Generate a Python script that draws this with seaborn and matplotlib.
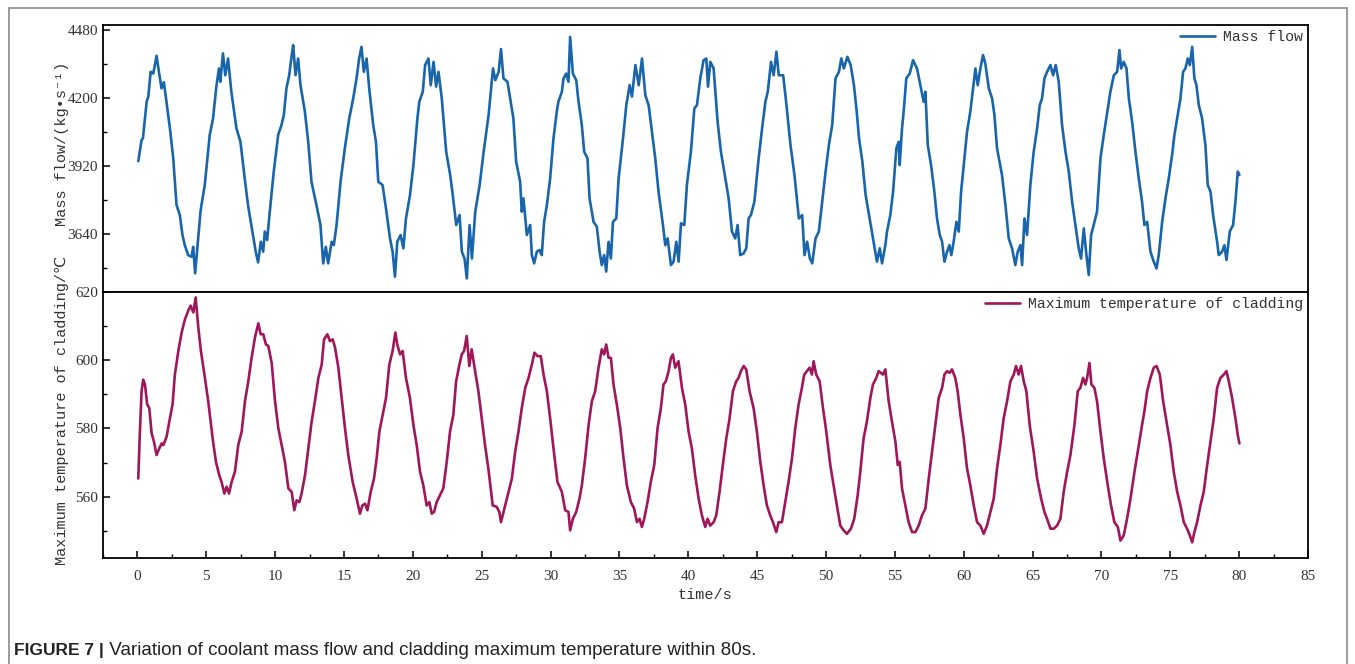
import matplotlib
matplotlib.use("Agg")
import numpy as np
import pandas as pd
import seaborn as sns
import matplotlib.pyplot as plt
from matplotlib.ticker import MultipleLocator, FixedLocator
from matplotlib.patches import Rectangle
from matplotlib.font_manager import FontProperties

# ---------------- data ----------------
t_flow = [0.06, 0.3, 0.4, 0.67, 0.79, 0.96, 1.15, 1.39, 1.58, 1.75, 1.92, 2.06, 2.36, 2.6, 2.84, 3.08, 3.27, 3.44,
          3.68, 3.93, 4.05, 4.19, 4.41, 4.58, 4.65, 4.89, 5.25, 5.49, 5.73, 5.92, 6.02, 6.21, 6.38, 6.58, 6.82, 7.19,
          7.48, 7.79, 8.03, 8.35, 8.59, 8.76, 8.96, 9.13, 9.25, 9.42, 9.61, 9.9, 10.22, 10.46, 10.63, 10.82, 11.02,
          11.19, 11.31, 11.48, 11.67, 11.84, 12.16, 12.4, 12.64, 13.0, 13.29, 13.49, 13.68, 13.85, 14.1, 14.26, 14.46,
          14.75, 15.06, 15.38, 15.67, 15.91, 16.1, 16.27, 16.44, 16.64, 16.83, 17.12, 17.32, 17.49, 17.8, 18.05,
          18.34, 18.53, 18.7, 18.87, 19.11, 19.31, 19.5, 19.79, 20.04, 20.33, 20.47, 20.72, 20.89, 21.13, 21.3, 21.5,
          21.69, 21.86, 22.1, 22.42, 22.71, 22.9, 23.15, 23.39, 23.56, 23.75, 23.92, 24.12, 24.29, 24.53, 24.85,
          25.14, 25.5, 25.82, 25.99, 26.23, 26.4, 26.58, 26.87, 27.06, 27.3, 27.5, 27.79, 27.91, 28.03, 28.28, 28.52,
          28.64, 28.81, 29.0, 29.19, 29.36, 29.53, 29.73, 29.97, 30.21, 30.45, 30.57, 30.82, 30.94, 31.13, 31.3,
          31.42, 31.62, 31.86, 32.03, 32.27, 32.44, 32.68, 32.83, 33.12, 33.36, 33.56, 33.72, 33.89, 34.04, 34.21,
          34.38, 34.53, 34.77, 34.94, 35.26, 35.5, 35.74, 35.91, 36.16, 36.4, 36.64, 36.88, 37.12, 37.36, 37.6,
          37.84, 38.16, 38.33, 38.5, 38.74, 38.93, 39.13, 39.3, 39.47, 39.71, 39.9, 40.19, 40.44, 40.63, 40.87,
          41.11, 41.31, 41.43, 41.6, 41.84, 42.13, 42.37, 42.61, 42.93, 43.17, 43.41, 43.58, 43.77, 44.02, 44.21,
          44.38, 44.55, 44.8, 45.11, 45.36, 45.6, 45.77, 46.01, 46.2, 46.4, 46.57, 46.89, 47.13, 47.42, 47.71,
          48.03, 48.27, 48.44, 48.63, 48.83, 49.0, 49.24, 49.48, 49.72, 49.97, 50.21, 50.45, 50.69, 50.94, 51.11,
          51.3, 51.55, 51.79, 52.03, 52.23, 52.4, 52.64, 52.88, 53.25, 53.46, 53.7, 53.9, 54.07, 54.31, 54.43,
          54.67, 54.87, 55.11, 55.28, 55.35, 55.52, 55.64, 55.83, 56.08, 56.32, 56.61, 56.85, 57.09, 57.22, 57.39,
          57.63, 57.87, 58.06, 58.26, 58.43, 58.6, 58.79, 58.96, 59.1, 59.27, 59.47, 59.64, 59.81, 60.05, 60.24,
          60.48, 60.68, 60.85, 61.02, 61.21, 61.4, 61.57, 61.82, 62.06, 62.23, 62.42, 62.78, 63.03, 63.27, 63.51,
          63.75, 63.92, 64.12, 64.24, 64.41, 64.6, 64.84, 65.08, 65.33, 65.52, 65.69, 65.86, 66.05, 66.3, 66.49,
          66.68, 66.9, 67.14, 67.39, 67.63, 67.87, 68.11, 68.35, 68.52, 68.72, 68.91, 69.08, 69.25, 69.44, 69.68,
          69.93, 70.17, 70.46, 70.65, 70.9, 71.14, 71.31, 71.43, 71.62, 71.82, 71.99, 72.23, 72.47, 72.71, 72.95,
          73.12, 73.32, 73.56, 73.8, 74.0, 74.16, 74.41, 74.65, 74.89, 75.13, 75.3, 75.54, 75.74, 75.93, 76.1,
          76.27, 76.42, 76.59, 76.75, 76.9, 77.07, 77.31, 77.55, 77.72, 77.92, 78.11, 78.4, 78.52, 78.76, 78.93,
          79.08, 79.32, 79.56, 79.73, 79.9, 80.02]
mass_flow = [3940, 4027, 4035, 4185, 4206, 4308, 4301, 4374, 4301, 4240, 4265, 4206, 4075, 3952, 3759, 3718, 3636,
             3594, 3553, 3546, 3587, 3478, 3622, 3732, 3759, 3842, 4048, 4116, 4247, 4322, 4267, 4384, 4294, 4363,
             4226, 4075, 4020, 3869, 3759, 3650, 3567, 3523, 3608, 3567, 3650, 3615, 3732, 3897, 4048, 4089, 4130,
             4240, 4294, 4370, 4418, 4294, 4363, 4253, 4144, 4020, 3855, 3759, 3677, 3519, 3587, 3519, 3608, 3594,
             3677, 3855, 3993, 4116, 4199, 4281, 4363, 4411, 4308, 4363, 4240, 4089, 4020, 3855, 3842, 3745, 3622,
             3567, 3464, 3608, 3636, 3581, 3704, 3800, 3924, 4116, 4185, 4226, 4336, 4363, 4253, 4349, 4247, 4308,
             4199, 3979, 3883, 3800, 3677, 3718, 3567, 3539, 3457, 3677, 3539, 3732, 3842, 3979, 4130, 4322, 4274,
             4308, 4402, 4281, 4267, 4199, 4116, 3938, 3855, 3732, 3787, 3636, 3677, 3553, 3519, 3567, 3574, 3553,
             3690, 3759, 3869, 4034, 4144, 4185, 4226, 4281, 4301, 4267, 4452, 4301, 4274, 4185, 4089, 3979, 3952,
             3787, 3690, 3670, 3567, 3512, 3553, 3485, 3608, 3539, 3690, 3704, 3869, 4034, 4171, 4253, 4206, 4336,
             4253, 4363, 4212, 4171, 4061, 3952, 3814, 3677, 3594, 3622, 3512, 3526, 3608, 3526, 3684, 3677, 3842,
             3979, 4157, 4171, 4281, 4356, 4363, 4247, 4349, 4322, 4102, 3979, 3897, 3787, 3650, 3622, 3677, 3553,
             3560, 3581, 3704, 3718, 3773, 3952, 4075, 4185, 4226, 4349, 4294, 4391, 4294, 4294, 4171, 4007, 3883,
             3704, 3718, 3553, 3608, 3539, 3519, 3622, 3650, 3773, 3897, 4007, 4089, 4281, 4308, 4363, 4322, 4370,
             4336, 4253, 4144, 4034, 3938, 3800, 3677, 3608, 3526, 3581, 3519, 3594, 3650, 3718, 3814, 3993, 4020,
             3924, 4075, 4144, 4281, 4301, 4356, 4322, 4253, 4185, 4226, 4007, 3924, 3814, 3704, 3636, 3608, 3526,
             3567, 3594, 3553, 3608, 3690, 3650, 3814, 3952, 4061, 4144, 4240, 4322, 4253, 4322, 4377, 4342, 4240,
             4199, 4130, 3993, 3883, 3759, 3622, 3581, 3512, 3567, 3594, 3512, 3704, 3636, 3842, 3979, 4075, 4171,
             4199, 4281, 4308, 4336, 4294, 4336, 4267, 4089, 3979, 3897, 3773, 3677, 3581, 3539, 3663, 3553, 3471,
             3636, 3677, 3732, 3952, 4048, 4157, 4226, 4294, 4308, 4398, 4322, 4349, 4322, 4199, 4102, 3979, 3869,
             3773, 3677, 3690, 3567, 3526, 3498, 3553, 3690, 3787, 3869, 3965, 4048, 4130, 4199, 4308, 4322, 4363,
             4336, 4411, 4281, 4253, 4171, 4116, 4007, 3842, 3814, 3718, 3608, 3553, 3567, 3594, 3533, 3650, 3677,
             3773, 3897, 3883]

t_temp = [0.06, 0.18, 0.3, 0.42, 0.55, 0.71, 0.86, 1.03, 1.2, 1.39, 1.59, 1.76, 1.88, 2.12, 2.36, 2.55, 2.72, 2.97,
          3.21, 3.45, 3.69, 3.86, 4.06, 4.23, 4.42, 4.61, 4.9, 5.14, 5.46, 5.7, 5.94, 6.11, 6.31, 6.48, 6.65, 6.84,
          7.08, 7.32, 7.57, 7.81, 8.05, 8.29, 8.53, 8.78, 8.95, 9.14, 9.33, 9.5, 9.75, 9.99, 10.23, 10.47, 10.71,
          10.96, 11.2, 11.39, 11.56, 11.76, 11.92, 12.17, 12.41, 12.65, 12.89, 13.14, 13.38, 13.55, 13.79, 13.98,
          14.18, 14.35, 14.59, 14.83, 15.07, 15.31, 15.63, 15.92, 16.16, 16.33, 16.53, 16.7, 16.94, 17.18, 17.37,
          17.57, 17.81, 18.05, 18.29, 18.53, 18.73, 18.87, 19.07, 19.26, 19.5, 19.79, 20.04, 20.28, 20.52, 20.76,
          21.0, 21.2, 21.37, 21.54, 21.73, 21.97, 22.21, 22.46, 22.7, 22.94, 23.14, 23.38, 23.55, 23.72, 23.91,
          24.1, 24.27, 24.52, 24.76, 25.0, 25.24, 25.48, 25.8, 26.09, 26.28, 26.4, 26.7, 26.95, 27.19, 27.43,
          27.67, 27.91, 28.16, 28.4, 28.64, 28.83, 29.05, 29.29, 29.49, 29.73, 29.97, 30.21, 30.5, 30.82, 31.06,
          31.3, 31.42, 31.62, 31.86, 32.1, 32.27, 32.51, 32.76, 33.0, 33.24, 33.48, 33.72, 33.89, 34.04, 34.21,
          34.38, 34.57, 34.81, 35.06, 35.3, 35.54, 35.83, 36.07, 36.27, 36.46, 36.63, 36.8, 37.04, 37.28, 37.53,
          37.77, 38.01, 38.2, 38.37, 38.57, 38.74, 38.88, 39.05, 39.29, 39.54, 39.78, 40.02, 40.26, 40.5, 40.75,
          40.99, 41.23, 41.4, 41.59, 41.84, 42.03, 42.27, 42.51, 42.76, 43.0, 43.24, 43.48, 43.65, 43.82, 44.02,
          44.21, 44.45, 44.74, 44.98, 45.23, 45.47, 45.71, 45.95, 46.15, 46.39, 46.56, 46.8, 47.04, 47.28, 47.53,
          47.77, 48.01, 48.25, 48.42, 48.62, 48.81, 48.98, 49.1, 49.29, 49.54, 49.78, 50.02, 50.31, 50.55, 50.79,
          51.04, 51.28, 51.52, 51.81, 52.05, 52.3, 52.49, 52.73, 52.97, 53.22, 53.41, 53.65, 53.82, 54.14, 54.31,
          54.55, 54.79, 55.04, 55.21, 55.35, 55.52, 55.76, 56.0, 56.25, 56.49, 56.73, 56.97, 57.22, 57.46, 57.7,
          57.94, 58.18, 58.43, 58.6, 58.79, 58.98, 59.15, 59.39, 59.56, 59.76, 60.0, 60.24, 60.48, 60.73, 60.97,
          61.21, 61.45, 61.69, 61.94, 62.18, 62.42, 62.66, 62.9, 63.15, 63.39, 63.63, 63.8, 63.99, 64.16, 64.36,
          64.55, 64.79, 65.08, 65.33, 65.62, 65.86, 66.05, 66.3, 66.54, 66.78, 67.02, 67.26, 67.51, 67.75, 68.04,
          68.28, 68.47, 68.67, 68.84, 68.96, 69.13, 69.27, 69.49, 69.68, 69.93, 70.17, 70.46, 70.7, 70.94, 71.19,
          71.38, 71.62, 71.86, 72.11, 72.4, 72.71, 72.95, 73.12, 73.32, 73.56, 73.8, 74.0, 74.24, 74.48, 74.77,
          75.01, 75.25, 75.5, 75.74, 75.98, 76.22, 76.42, 76.59, 76.75, 76.95, 77.19, 77.43, 77.68, 77.92, 78.16,
          78.4, 78.64, 78.89, 79.08, 79.25, 79.49, 79.73, 79.9, 80.02]
temp = [565.3, 579.1, 590.9, 594.3, 592.8, 587.0, 586.0, 578.6, 576.1, 572.2, 574.2, 575.6, 575.1, 577.6, 583.0,
        587.0, 595.8, 602.7, 608.1, 612.0, 614.5, 616.0, 614.0, 618.4, 609.6, 602.7, 594.8, 588.0, 577.1, 570.2,
        566.3, 564.3, 560.9, 562.9, 560.9, 564.3, 567.3, 575.1, 579.1, 588.0, 593.8, 600.7, 606.6, 610.8, 607.6,
        607.6, 604.6, 604.2, 599.2, 588.0, 580.1, 575.1, 570.2, 562.4, 561.4, 556.0, 558.9, 558.4, 560.9, 566.3,
        574.2, 582.0, 588.0, 594.8, 598.7, 606.1, 607.6, 605.6, 606.1, 603.7, 597.8, 588.9, 580.1, 572.2, 564.3,
        559.4, 555.0, 557.4, 557.9, 556.0, 561.4, 565.3, 571.2, 579.1, 584.0, 588.9, 598.7, 602.7, 608.1, 604.6,
        601.7, 602.7, 594.8, 588.9, 581.0, 575.1, 567.3, 563.3, 557.4, 558.4, 555.0, 555.5, 558.4, 560.4, 562.4,
        570.2, 579.1, 584.0, 593.8, 598.7, 601.7, 602.7, 607.1, 598.3, 603.2, 596.8, 590.9, 583.0, 575.1, 568.3,
        557.4, 557.0, 555.5, 552.5, 557.4, 561.4, 565.3, 573.2, 579.1, 586.0, 591.9, 594.8, 598.7, 602.2, 601.2,
        601.2, 595.8, 590.9, 583.0, 574.2, 564.3, 561.4, 556.0, 555.5, 550.1, 553.5, 555.5, 559.4, 563.3, 571.2,
        581.0, 588.0, 590.9, 597.8, 603.2, 601.7, 604.6, 600.7, 600.7, 592.9, 587.0, 580.1, 571.2, 563.3, 558.4,
        556.5, 552.5, 553.5, 551.1, 553.5, 558.4, 564.3, 569.3, 580.1, 586.0, 592.9, 593.8, 596.8, 600.7, 601.7,
        597.8, 599.7, 591.9, 587.0, 579.1, 574.2, 566.3, 559.4, 554.5, 551.1, 553.5, 551.5, 552.5, 554.5, 561.4,
        569.3, 577.1, 583.0, 590.9, 593.8, 594.8, 596.8, 598.3, 597.3, 590.9, 586.0, 579.1, 570.2, 563.3, 557.4,
        554.5, 552.5, 549.6, 552.5, 552.5, 558.4, 564.3, 571.2, 580.1, 587.0, 591.9, 595.8, 596.8, 597.8, 595.8,
        599.7, 595.8, 593.8, 586.0, 579.1, 569.3, 563.3, 557.4, 551.5, 550.1, 549.1, 550.6, 553.5, 560.4, 567.3,
        577.1, 582.0, 588.9, 592.9, 594.8, 596.8, 595.8, 597.3, 588.0, 582.0, 576.1, 569.3, 570.2, 562.4, 557.4,
        552.5, 549.6, 549.6, 551.5, 554.5, 556.5, 565.3, 573.2, 581.0, 588.9, 591.9, 595.8, 596.8, 596.3, 597.3,
        594.8, 590.9, 584.0, 577.1, 568.3, 563.3, 557.4, 552.5, 551.5, 549.1, 551.5, 555.5, 559.4, 568.3, 575.1,
        583.0, 588.0, 593.8, 595.8, 598.3, 595.8, 598.3, 593.8, 590.9, 581.0, 573.2, 565.3, 559.4, 555.5, 553.5,
        550.6, 550.6, 551.5, 553.5, 561.4, 567.3, 572.2, 581.0, 590.9, 591.9, 594.8, 592.9, 594.8, 599.2, 592.9,
        591.9, 588.0, 579.1, 571.2, 563.3, 557.4, 552.5, 551.1, 547.1, 548.6, 553.5, 559.4, 567.3, 575.1, 581.0,
        585.0, 590.9, 594.8, 597.8, 598.3, 595.8, 588.0, 581.0, 575.1, 567.3, 561.4, 557.4, 552.5, 550.6, 548.6,
        546.6, 549.6, 552.5, 557.4, 561.4, 569.3, 576.1, 583.0, 591.9, 594.8, 595.8, 596.8, 593.8, 588.9, 583.0,
        578.1, 575.6]

x_major = [0, 5, 10, 15, 20, 25, 30, 35, 40, 45, 50, 55, 60, 65, 70, 75, 80, 85]
flow_ticks = [3640, 3920, 4200, 4480]
flow_minor = [3500, 3780, 4060, 4340]
temp_ticks = [560, 580, 600, 620]
temp_minor = [550, 570, 590, 610]

flow_label = "Mass flow"
temp_label = "Maximum temperature of cladding"

# ---------------- styling ----------------
sns.set_theme(style="ticks")
plt.rcParams['font.family'] = ['Liberation Serif', 'DejaVu Serif']
MONO = ['Liberation Mono', 'DejaVu Sans Mono', 'DejaVu Sans', 'Noto Sans CJK SC']
mono = FontProperties(family=MONO, size=11)
mono_leg = FontProperties(family=MONO, size=10.7)

BLUE = "#1865ac"
CRIMSON = "#a0165a"

W, H = 1355, 664
fig = plt.figure(figsize=(W / 100, H / 100), dpi=100)
fig.patch.set_facecolor('white')

left = 103 / W
width = (1308 - 103) / W
ax1 = fig.add_axes([left, 1 - 292 / H, width, (292 - 25) / H])
ax2 = fig.add_axes([left, 1 - 558 / H, width, (558 - 292) / H], sharex=ax1)

df_flow = pd.DataFrame({"t": t_flow, "v": mass_flow})
df_temp = pd.DataFrame({"t": t_temp, "v": temp})

sns.lineplot(data=df_flow, x="t", y="v", ax=ax1, color=BLUE, lw=1.9, label=flow_label,
             estimator=None, sort=False)
sns.lineplot(data=df_temp, x="t", y="v", ax=ax2, color=CRIMSON, lw=1.9, label=temp_label,
             estimator=None, sort=False)

ax2.set_xlim(-2.5, 85)
ax1.set_ylim(3401, 4501)
ax2.set_ylim(542, 620)

for ax in (ax1, ax2):
    ax.set_facecolor('white')
    for s in ax.spines.values():
        s.set_visible(True)
        s.set_color('black')
        s.set_linewidth(1.3)
    ax.tick_params(axis='both', which='major', direction='in', length=5, width=1.1,
                   labelsize=11, colors='black', labelcolor='#333333')
    ax.tick_params(axis='both', which='minor', direction='in', length=3, width=1.0, colors='black')
    ax.tick_params(axis='x', which='both', top=False)
    ax.tick_params(axis='y', which='both', right=False)
    ax.grid(False)

ax1.yaxis.set_major_locator(FixedLocator(flow_ticks))
ax1.yaxis.set_minor_locator(FixedLocator(flow_minor))
ax2.yaxis.set_major_locator(FixedLocator(temp_ticks))
ax2.yaxis.set_minor_locator(FixedLocator(temp_minor))
ax2.xaxis.set_major_locator(FixedLocator(x_major))
ax2.xaxis.set_minor_locator(MultipleLocator(2.5))
ax2.tick_params(axis='x', which='major', pad=9)
ax1.tick_params(axis='x', which='both', bottom=False, labelbottom=False)

ax1.set_xlabel("")
ax2.set_xlabel("time/s", fontproperties=mono, color='#333333')
ax2.xaxis.set_label_coords(0.5, -0.112)
ax1.set_ylabel("Mass flow/(kg•s⁻¹)", fontproperties=mono, color='#333333')
ax2.set_ylabel("Maximum temperature of cladding/℃", fontproperties=mono, color='#333333')
ax1.yaxis.set_label_coords(-0.028, 0.554)
ax2.yaxis.set_label_coords(-0.028, 0.556)

for ax in (ax1, ax2):
    leg = ax.legend(loc='upper right', frameon=False, prop=mono_leg, handlelength=2.4,
                    handletextpad=0.5, borderaxespad=0.15, borderpad=0.2)
    for txt in leg.get_texts():
        txt.set_color('#333333')

# outer frame of the figure panel
fig.add_artist(Rectangle((9 / W, -0.05), (1347 - 9) / W, (1 - 8 / H) + 0.05,
                         transform=fig.transFigure, fill=False, ec='#8a8a8a', lw=1.2))

# caption: bold lead-in followed by regular text on the same baseline
cap_y = 1 - 655 / H
cap1 = fig.text(14 / W, cap_y, "FIGURE 7 |", fontsize=12.5, fontweight='bold',
                family=['Liberation Sans', 'DejaVu Sans'], color='#222222', va='baseline')
fig.canvas.draw()
ext = cap1.get_window_extent(renderer=fig.canvas.get_renderer())
fig.text(ext.x1 / fig.bbox.width, cap_y,
         " Variation of coolant mass flow and cladding maximum temperature within 80s.",
         fontsize=13.6, family=['Liberation Sans', 'DejaVu Sans'], color='#222222', va='baseline')

fig.savefig("out.png", dpi=100)
